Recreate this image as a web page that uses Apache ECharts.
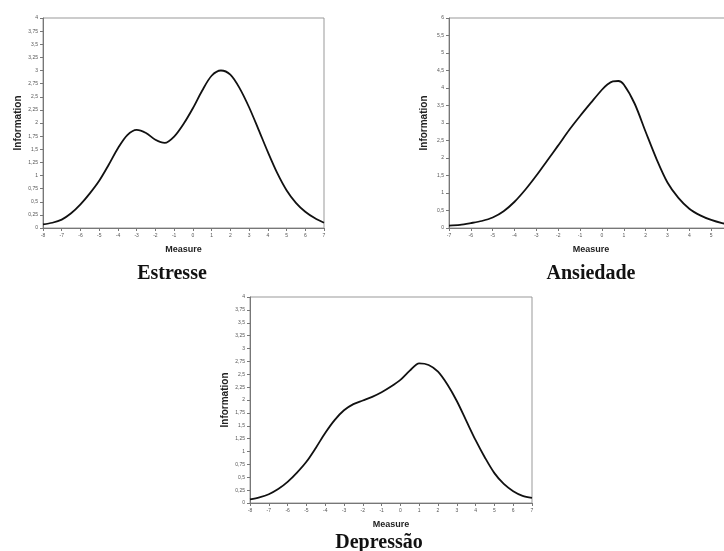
<!DOCTYPE html>
<html>
<head>
<meta charset="utf-8">
<style>
  html, body { margin: 0; padding: 0; background: #fff; }
  #chart { width: 724px; height: 551px; }
</style>
<script src="https://cdn.jsdelivr.net/npm/echarts@6/dist/echarts.min.js"></script>
</head>
<body>
<div id="chart"></div>
<script>
// valores (curvas de informação)
const xEstresse = [-8, -7.5, -7, -6.5, -6, -5.5, -5, -4.5, -4, -3.5, -3, -2.5, -2, -1.5, -1, -0.5, 0, 0.5, 1, 1.5, 2, 2.5, 3, 3.5, 4, 4.5, 5, 5.5, 6, 6.5, 7]
const yEstresse = [0.07, 0.1, 0.16, 0.28, 0.45, 0.66, 0.9, 1.2, 1.52, 1.77, 1.87, 1.81, 1.68, 1.62, 1.74, 1.98, 2.28, 2.62, 2.9, 3.0, 2.92, 2.66, 2.3, 1.88, 1.45, 1.05, 0.72, 0.48, 0.31, 0.19, 0.1]

const xAnsiedade = [-7, -6.5, -6, -5.5, -5, -4.5, -4, -3.5, -3, -2.5, -2, -1.5, -1, -0.5, 0, 0.25, 0.5, 0.75, 1, 1.5, 2, 2.5, 3, 3.5, 4, 4.5, 5, 5.5, 6]
const yAnsiedade = [0.07, 0.09, 0.14, 0.2, 0.3, 0.48, 0.75, 1.1, 1.5, 1.93, 2.36, 2.8, 3.2, 3.58, 3.95, 4.1, 4.19, 4.2, 4.1, 3.55, 2.75, 1.97, 1.3, 0.86, 0.55, 0.36, 0.23, 0.14, 0.08]

const xDepressao = [-8, -7.5, -7, -6.5, -6, -5.5, -5, -4.5, -4, -3.5, -3, -2.5, -2, -1.5, -1, -0.5, 0, 0.5, 1, 1.5, 2, 2.5, 3, 3.5, 4, 4.5, 5, 5.5, 6, 6.5, 7]
const yDepressao = [0.07, 0.11, 0.17, 0.27, 0.41, 0.59, 0.8, 1.07, 1.36, 1.61, 1.8, 1.92, 1.99, 2.06, 2.15, 2.26, 2.39, 2.57, 2.71, 2.68, 2.55, 2.3, 1.98, 1.6, 1.22, 0.88, 0.58, 0.37, 0.23, 0.14, 0.1]

const titulos = ['Estresse', 'Ansiedade', 'Depressão']

const pairs = (xs, ys) => xs.map((x, i) => [x, ys[i]])
const fmt = v => String(v).replace('.', ',')

const chart = echarts.init(document.getElementById('chart'))

const grids = [
  { left: 43, top: 18, width: 281, height: 210 },
  { left: 449, top: 18, width: 284, height: 210 },
  { left: 250, top: 297, width: 282, height: 206 }
]

const xRanges = [[-8, 7], [-7, 6], [-8, 7]]
const yRanges = [[0, 4, 0.25], [0, 6, 0.5], [0, 4, 0.25]]

const xAxis = grids.map((g, i) => ({
  type: 'value',
  gridIndex: i,
  min: xRanges[i][0],
  max: xRanges[i][1],
  interval: 1,
  name: 'Measure',
  nameLocation: 'middle',
  nameGap: 17,
  nameTextStyle: { fontFamily: 'Liberation Sans', fontWeight: 'bold', fontSize: 9, color: '#222' },
  axisLine: { onZero: false, lineStyle: { color: '#777', width: 1 } },
  axisTick: { length: 3, lineStyle: { color: '#777' } },
  axisLabel: { fontSize: 5, color: '#555', margin: 5, fontFamily: 'Liberation Sans' },
  splitLine: { show: false }
}))

const yAxis = grids.map((g, i) => ({
  type: 'value',
  gridIndex: i,
  min: yRanges[i][0],
  max: yRanges[i][1],
  interval: yRanges[i][2],
  name: 'Information',
  nameLocation: 'middle',
  nameGap: 20,
  nameRotate: 90,
  nameTextStyle: { fontFamily: 'Liberation Sans', fontWeight: 'bold', fontSize: 10, color: '#222' },
  axisLine: { show: true, onZero: false, lineStyle: { color: '#777', width: 1 } },
  axisTick: { length: 3, lineStyle: { color: '#777' } },
  axisLabel: { fontSize: 5, color: '#555', margin: 5, fontFamily: 'Liberation Sans', formatter: fmt },
  splitLine: { show: false }
}))

const dados = [pairs(xEstresse, yEstresse), pairs(xAnsiedade, yAnsiedade), pairs(xDepressao, yDepressao)]

const series = dados.map((d, i) => ({
  type: 'line',
  xAxisIndex: i,
  yAxisIndex: i,
  data: d,
  smooth: 0.3,
  showSymbol: false,
  lineStyle: { color: '#111', width: 1.8 }
}))

const titlePos = [[172, 264], [591, 264], [379, 533]]

const option = {
  animation: false,
  backgroundColor: '#fff',
  title: titulos.map((t, i) => ({
    text: t,
    left: titlePos[i][0],
    top: titlePos[i][1],
    padding: 0,
    textAlign: 'center',
    textStyle: { fontFamily: 'Liberation Serif', fontWeight: 'bold', fontSize: 20, color: '#111' }
  })),
  grid: grids.map(g => Object.assign({ show: true, borderColor: '#999', borderWidth: 1, backgroundColor: '#fff', outerBoundsMode: 'none' }, g)),
  xAxis: xAxis,
  yAxis: yAxis,
  series: series
}

chart.setOption(option)
</script>
</body>
</html>
